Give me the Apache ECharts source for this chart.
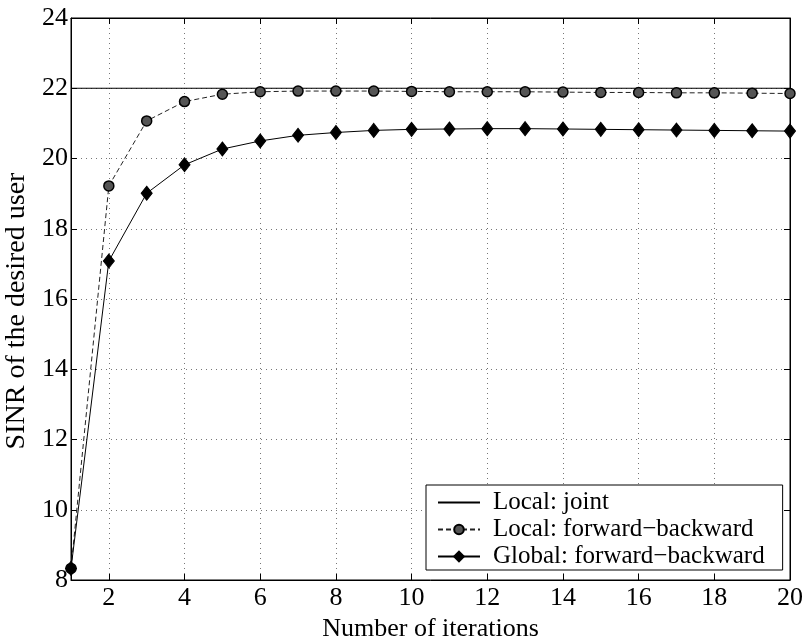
<!DOCTYPE html>
<html><head><meta charset="utf-8">
<script src="https://cdn.jsdelivr.net/npm/echarts@6/dist/echarts.min.js"></script>
<style>html,body{margin:0;padding:0;background:#fff}#c{width:802px;height:638px}</style>
</head><body><div id="c"></div>
<script>
const iterations = ['1','2','3','4','5','6','7','8','9','10','11','12','13','14','15','16','17','18','19','20'];
const localJoint = [22,22,22,22,22,22,22,22,22,22,22,22,22,22,22,22,22,22,22,22];
const localFB = [8.33,19.22,21.07,21.62,21.83,21.9,21.92,21.92,21.92,21.91,21.9,21.9,21.9,21.89,21.88,21.88,21.87,21.87,21.86,21.85];
const globalFB = [8.33,17.08,19.01,19.82,20.27,20.5,20.66,20.74,20.8,20.83,20.84,20.85,20.85,20.84,20.83,20.82,20.81,20.8,20.79,20.78];
const yTicks = {min: 8, max: 24, interval: 2};
const seriesNames = ['Local: joint','Local: forward\u2212backward','Global: forward\u2212backward'];

const font = 'Liberation Serif';
const even = (i) => i % 2 === 1;
const chart = echarts.init(document.getElementById('c'));
chart.setOption({
  animation: false,
  backgroundColor: '#fff',
  grid: {left: 71, right: 12, top: 18, bottom: 58, show: true, borderColor: '#000', borderWidth: 1,
         containLabel: false, outerBoundsMode: 'none'},
  legend: {
    orient: 'vertical', left: 426, top: 485,
    data: [{name: seriesNames[0], itemStyle: {opacity: 0}}, {name: seriesNames[1]}, {name: seriesNames[2]}],
    backgroundColor: '#fff', borderColor: '#000', borderWidth: 1,
    padding: [5, 18, 1, 11], itemGap: 2, itemWidth: 42, itemHeight: 12,
    textStyle: {fontFamily: font, fontSize: 25, lineHeight: 22, color: '#000', padding: [0, 0, 0, 8]}
  },
  xAxis: [{
    type: 'category', data: iterations, boundaryGap: false,
    name: 'Number of iterations', nameLocation: 'middle', nameGap: 27,
    nameTextStyle: {fontFamily: font, fontSize: 26, color: '#000'},
    axisLine: {lineStyle: {color: '#000', width: 1}},
    axisTick: {inside: true, length: 6, interval: even, lineStyle: {color: '#000'}},
    axisLabel: {interval: even, fontFamily: font, fontSize: 26, color: '#000', margin: 5},
    splitLine: {show: true, interval: even, lineStyle: {color: '#777', type: [1, 4], width: 1}}
  }, {
    type: 'category', data: iterations, boundaryGap: false, position: 'top',
    axisLine: {lineStyle: {color: '#000'}},
    axisTick: {inside: true, length: 6, interval: even, lineStyle: {color: '#000'}},
    axisLabel: {show: false}, splitLine: {show: false}
  }],
  yAxis: [{
    type: 'value', min: yTicks.min, max: yTicks.max, interval: yTicks.interval,
    name: 'SINR of the desired user', nameLocation: 'middle', nameGap: 36,
    nameTextStyle: {fontFamily: font, fontSize: 28, color: '#000', padding: [0, 24, 0, 0]},
    axisLine: {show: true, lineStyle: {color: '#000', width: 1}},
    axisTick: {show: true, inside: true, length: 6, lineStyle: {color: '#000'}},
    axisLabel: {fontFamily: font, fontSize: 26, color: '#000', margin: 3},
    splitLine: {show: true, lineStyle: {color: '#777', type: [1, 4], width: 1}}
  }, {
    type: 'value', min: yTicks.min, max: yTicks.max, interval: yTicks.interval, position: 'right',
    axisLine: {show: true, lineStyle: {color: '#000'}},
    axisTick: {show: true, inside: true, length: 6, lineStyle: {color: '#000'}},
    axisLabel: {show: false}, splitLine: {show: false}
  }],
  series: [{
    name: seriesNames[0], type: 'line', data: localJoint,
    symbol: 'none', lineStyle: {color: '#000', width: 1.2}, itemStyle: {color: '#000'}, z: 3
  }, {
    name: seriesNames[1], type: 'line', data: localFB,
    symbol: 'circle', symbolSize: 10,
    lineStyle: {color: '#222', width: 1, type: [5, 3]},
    itemStyle: {color: '#555', borderColor: '#000', borderWidth: 1.5}, z: 4
  }, {
    name: seriesNames[2], type: 'line', data: globalFB,
    symbol: 'diamond', symbolSize: [11, 14],
    lineStyle: {color: '#000', width: 1},
    itemStyle: {color: '#000', borderColor: '#000', borderWidth: 1}, z: 5
  }]
});
</script>
</body></html>
